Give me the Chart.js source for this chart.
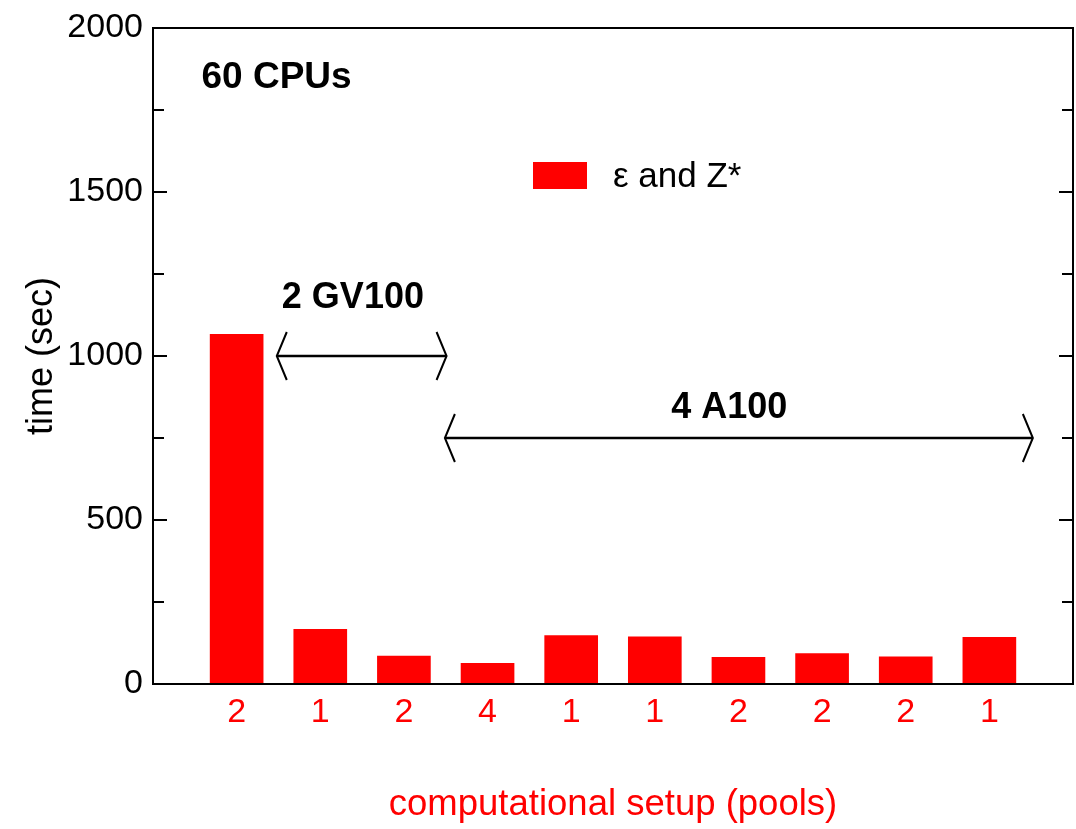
<!DOCTYPE html>
<html>
<head>
<meta charset="utf-8">
<title>Timing per computational setup</title>
<script src="https://cdn.jsdelivr.net/npm/chart.js@4.4.1/dist/chart.umd.min.js"></script>
<style>
  html, body { margin: 0; padding: 0; background: #ffffff; }
  #wrap { width: 1076px; height: 829px; position: relative; }
</style>
</head>
<body>
<div id="wrap"><canvas id="chart"></canvas></div>
<script>
// Pools used in each computational setup (x-axis labels, left to right)
const poolLabels = ['2', '1', '2', '4', '1', '1', '2', '2', '2', '1'];
// Wall time in seconds for the epsilon and Z* calculation
const timeSec = [1066, 167, 85, 63, 148, 144, 81, 93, 83, 142];
// Y-axis tick values
const yTickValues = [0, 500, 1000, 1500, 2000];

const FONT = '"Liberation Sans", Arial, Helvetica, sans-serif';
const RED = '#ff0000';

// Bars sit at positions 1..N on a linear axis running from 0 to N+1
const barPoints = timeSec.map((t, i) => ({ x: i + 1, y: t }));

// Frame, inward ticks, hardware-range arrows and labels
const decorations = {
  id: 'decorations',
  afterDraw(chart) {
    const { ctx, chartArea: a, scales: { x, y } } = chart;
    ctx.save();

    // closed frame
    ctx.strokeStyle = '#000';
    ctx.lineWidth = 2;
    ctx.strokeRect(a.left, a.top, a.right - a.left, a.bottom - a.top);

    // inward ticks on left and right edges
    ctx.lineWidth = 2;
    for (let v = 0; v <= 2000; v += 250) {
      const py = y.getPixelForValue(v);
      const len = v % 500 === 0 ? 14 : 11;
      ctx.beginPath();
      ctx.moveTo(a.left, py); ctx.lineTo(a.left + len, py);
      ctx.moveTo(a.right, py); ctx.lineTo(a.right - len, py);
      ctx.stroke();
    }

    // double-headed arrow with open chevron heads
    function arrow(x0, x1, v) {
      const px0 = x.getPixelForValue(x0);
      const px1 = x.getPixelForValue(x1);
      const py = y.getPixelForValue(v);
      ctx.strokeStyle = '#000';
      ctx.lineWidth = 2.5;
      ctx.beginPath();
      ctx.moveTo(px0, py); ctx.lineTo(px1, py);
      ctx.stroke();
      ctx.lineWidth = 2;
      ctx.beginPath();
      ctx.moveTo(px0 + 10, py - 24); ctx.lineTo(px0, py); ctx.lineTo(px0 + 10, py + 24);
      ctx.moveTo(px1 - 10, py - 24); ctx.lineTo(px1, py); ctx.lineTo(px1 - 10, py + 24);
      ctx.stroke();
    }
    arrow(1.48, 3.51, 1000);
    arrow(3.49, 10.52, 750);

    ctx.fillStyle = '#000';
    ctx.textBaseline = 'alphabetic';
    ctx.font = 'bold 36px ' + FONT;
    ctx.textAlign = 'center';
    ctx.fillText('2 GV100', x.getPixelForValue(2.39), y.getPixelForValue(1146));
    ctx.fillText('4 A100', x.getPixelForValue(6.89), y.getPixelForValue(812));
    ctx.textAlign = 'left';
    ctx.font = 'bold 37px ' + FONT;
    ctx.fillText('60 CPUs', x.getPixelForValue(0.58), y.getPixelForValue(1816));

    // legend
    ctx.fillStyle = RED;
    ctx.fillRect(a.left + 380, a.top + 134, 54, 27);
    ctx.fillStyle = '#000';
    ctx.font = '35px ' + FONT;
    ctx.fillText('\u03B5 and Z*', a.left + 460, a.top + 159);

    ctx.restore();
  }
};

new Chart(document.getElementById('chart'), {
  type: 'bar',
  data: {
    datasets: [{
      label: '\u03B5 and Z*',
      data: barPoints,
      backgroundColor: RED,
      borderWidth: 0,
      barThickness: 53
    }]
  },
  options: {
    responsive: true,
    maintainAspectRatio: false,
    animation: false,
    layout: { padding: { top: 28, right: 3, bottom: 0, left: 0 } },
    plugins: {
      legend: { display: false },
      tooltip: { enabled: false }
    },
    scales: {
      x: {
        type: 'linear',
        offset: false,
        min: 0,
        max: poolLabels.length + 1,
        grid: { display: false, drawTicks: false },
        border: { display: false },
        ticks: {
          stepSize: 1,
          autoSkip: false,
          maxRotation: 0,
          padding: 8,
          color: RED,
          font: { family: FONT, size: 34 },
          callback: (v) => (v >= 1 && v <= poolLabels.length) ? poolLabels[v - 1] : ''
        },
        title: {
          display: true,
          text: 'computational setup (pools)',
          color: RED,
          font: { family: FONT, size: 36.5 },
          padding: { top: 0, bottom: 2 }
        },
        afterFit(scale) {
          scale.height = 145;
          scale.paddingLeft = 0;
          scale.paddingRight = 0;
        }
      },
      y: {
        min: 0,
        max: 2000,
        grid: { display: false, drawTicks: false },
        border: { display: false },
        afterBuildTicks(scale) { scale.ticks = yTickValues.map(v => ({ value: v })); },
        ticks: {
          padding: 10,
          color: '#000',
          font: { family: FONT, size: 34 },
          callback: (v) => String(v)
        },
        title: {
          display: true,
          text: 'time (sec)',
          color: '#000',
          font: { family: FONT, size: 36 },
          padding: { top: 20, bottom: 0 }
        },
        afterFit(scale) {
          scale.width = 153;
          scale.paddingTop = 0;
          scale.paddingBottom = 0;
        }
      }
    }
  },
  plugins: [decorations]
});
</script>
</body>
</html>
